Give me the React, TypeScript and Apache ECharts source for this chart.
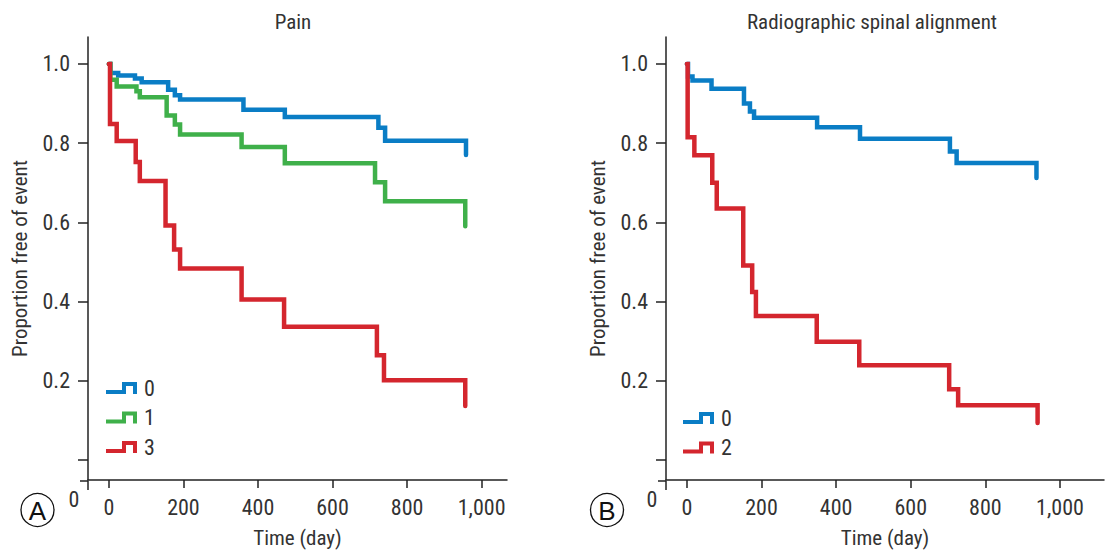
import React, { useEffect, useRef } from "react";
import * as echarts from "echarts";

// ---------- data ----------
const X_TICKS = [0, 200, 400, 600, 800, 1000];
const Y_TICKS = [0, 0.2, 0.4, 0.6, 0.8, 1.0];
const Y_LABELS = [0.2, 0.4, 0.6, 0.8, 1.0];

// Panel A: Pain
const painDays0 = [0, 4, 25, 70, 88, 159, 177, 191, 361, 472, 723, 741, 958];
const painSurv0 = [1, 0.977, 0.971, 0.963, 0.954, 0.935, 0.921, 0.91, 0.884, 0.866, 0.839, 0.806, 0.77];
const painDays1 = [0, 4, 21, 74, 83, 155, 177, 191, 356, 472, 714, 741, 956];
const painSurv1 = [1, 0.96, 0.943, 0.931, 0.916, 0.87, 0.847, 0.822, 0.79, 0.749, 0.701, 0.653, 0.59];
const painDays3 = [0, 3, 21, 72, 83, 152, 175, 191, 356, 470, 719, 738, 956];
const painSurv3 = [1, 0.848, 0.805, 0.752, 0.704, 0.592, 0.531, 0.483, 0.405, 0.336, 0.264, 0.201, 0.136];

// Panel B: Radiographic spinal alignment
const alignDays0 = [0, 3, 15, 66, 153, 169, 180, 349, 464, 705, 723, 937];
const alignSurv0 = [1, 0.968, 0.958, 0.937, 0.9, 0.88, 0.864, 0.84, 0.811, 0.779, 0.75, 0.712];
const alignDays2 = [0, 2, 20, 68, 80, 151, 175, 185, 348, 462, 703, 727, 940];
const alignSurv2 = [1, 0.815, 0.769, 0.7, 0.635, 0.491, 0.424, 0.363, 0.298, 0.239, 0.178, 0.138, 0.093];

const TITLES = ["Pain", "Radiographic spinal alignment"];
const LEGEND_A = ["0", "1", "3"];
const LEGEND_B = ["0", "2"];

// ---------- styles ----------
const BLUE = "#0a7dc5";
const GREEN = "#3fb04a";
const RED = "#d4262e";
const AXIS = "#222";
const TEXT = "#333";
const FONT = "'Liberation Sans Narrow', 'Roboto Condensed', 'DejaVu Sans Condensed', 'Liberation Sans', sans-serif";
const STEP_ICON = "path://M0,8 L16,8 L16,0 L31,0 L31,12 L27,12 L27,4 L20,4 L20,12 L0,12 Z";

const pairs = (d: number[], s: number[]) => d.map((t, i) => [t, s[i]]);

function kmSeries(name: string, days: number[], surv: number[], color: string, idx: number) {
  return {
    type: "line",
    name,
    xAxisIndex: idx,
    yAxisIndex: idx,
    step: "end",
    symbol: "none",
    showSymbol: false,
    data: pairs(days, surv),
    lineStyle: { color, width: 4.5, cap: "round", join: "miter" },
    itemStyle: { color },
    z: 3,
  };
}

function xAxis(idx: number, max: number) {
  return {
    type: "value",
    gridIndex: idx,
    min: -56,
    max,
    axisLine: { show: true, onZero: false, lineStyle: { color: AXIS, width: 1.5 } },
    axisTick: { show: true, length: 8, customValues: X_TICKS, lineStyle: { color: AXIS, width: 1.5 } },
    axisLabel: {
      customValues: X_TICKS,
      formatter: (v: number) => v.toLocaleString("en-US"),
      fontSize: 22,
      color: TEXT,
      fontFamily: FONT,
      margin: 16,
    },
    splitLine: { show: false },
    name: "Time (day)",
    nameLocation: "middle",
    nameGap: 47,
    nameTextStyle: { fontSize: 21, color: TEXT, fontFamily: FONT },
  };
}

function yAxis(idx: number) {
  return {
    type: "value",
    gridIndex: idx,
    min: -0.051,
    max: 1.068,
    axisLine: { show: true, onZero: false, lineStyle: { color: AXIS, width: 1.5 } },
    axisTick: { show: true, length: 10, customValues: Y_TICKS, lineStyle: { color: AXIS, width: 1.5 } },
    axisLabel: {
      customValues: Y_LABELS,
      formatter: (v: number) => v.toFixed(1),
      fontSize: 22,
      color: TEXT,
      fontFamily: FONT,
      margin: 18,
    },
    splitLine: { show: false },
    name: "Proportion free of event",
    nameLocation: "middle",
    nameGap: 58,
    nameTextStyle: { fontSize: 21, color: TEXT, fontFamily: FONT },
  };
}

function legend(data: string[], colors: string[], left: number, top: number) {
  return {
    data: data.map((name, i) => ({ name, itemStyle: { color: colors[i], borderWidth: 0 } })),
    orient: "vertical",
    left,
    top,
    icon: STEP_ICON,
    itemWidth: 31,
    itemHeight: 12,
    itemGap: 7.5,
    padding: 0,
    selectedMode: false,
    itemStyle: { borderWidth: 0 },
    textStyle: { fontSize: 22, color: TEXT, fontFamily: FONT, padding: [0, 0, 0, 2] },
  };
}

function panelGraphics(axisX: number, zeroX: number, circleX: number, letter: string) {
  const line = { stroke: AXIS, lineWidth: 1.5 };
  return [
    { type: "line", shape: { x1: axisX - 8, y1: 481, x2: axisX, y2: 481 }, style: line },
    { type: "line", shape: { x1: axisX, y1: 481, x2: axisX, y2: 490 }, style: line },
    {
      type: "text",
      x: zeroX,
      y: 499,
      style: { text: "0", fontSize: 22, fontFamily: FONT, fill: TEXT, align: "center", verticalAlign: "middle" },
    },
    { type: "circle", shape: { cx: circleX, cy: 510, r: 16.5 }, style: { fill: "none", stroke: "#111", lineWidth: 1.3 } },
    {
      type: "text",
      x: circleX,
      y: 511,
      style: {
        text: letter,
        fontSize: 26,
        fontFamily: "'Liberation Sans', Arial, sans-serif",
        fill: "#111",
        align: "center",
        verticalAlign: "middle",
      },
    },
  ];
}

export default function App() {
  const ref = useRef<HTMLDivElement>(null);
  useEffect(() => {
    if (!ref.current) return;
    const chart = echarts.init(ref.current, undefined, { renderer: "svg" });
    chart.setOption({
      animation: false,
      backgroundColor: "#fff",
      title: [
        { text: TITLES[0], left: 293, top: 11, textAlign: "center", padding: 0, textStyle: { fontSize: 21, fontWeight: "normal", color: TEXT, fontFamily: FONT } },
        { text: TITLES[1], left: 872, top: 11, textAlign: "center", padding: 0, textStyle: { fontSize: 21, fontWeight: "normal", color: TEXT, fontFamily: FONT } },
      ],
      grid: [
        { left: 88, top: 37, width: 419, height: 444 },
        { left: 666, top: 37, width: 438, height: 444 },
      ],
      xAxis: [xAxis(0, 1068), xAxis(1, 1118)],
      yAxis: [yAxis(0), yAxis(1)],
      legend: [legend(LEGEND_A, [BLUE, GREEN, RED], 106, 377), legend(LEGEND_B, [BLUE, RED], 683, 407)],
      series: [
        kmSeries(LEGEND_A[0], painDays0, painSurv0, BLUE, 0),
        kmSeries(LEGEND_A[1], painDays1, painSurv1, GREEN, 0),
        kmSeries(LEGEND_A[2], painDays3, painSurv3, RED, 0),
        kmSeries(LEGEND_B[0], alignDays0, alignSurv0, BLUE, 1),
        kmSeries(LEGEND_B[1], alignDays2, alignSurv2, RED, 1),
      ],
      graphic: [...panelGraphics(88, 74, 37.5, "A"), ...panelGraphics(666, 652, 607, "B")],
    });
    return () => chart.dispose();
  }, []);
  return <div ref={ref} style={{ position: "absolute", left: 0, top: 0, width: 1105, height: 553 }} />;
}
